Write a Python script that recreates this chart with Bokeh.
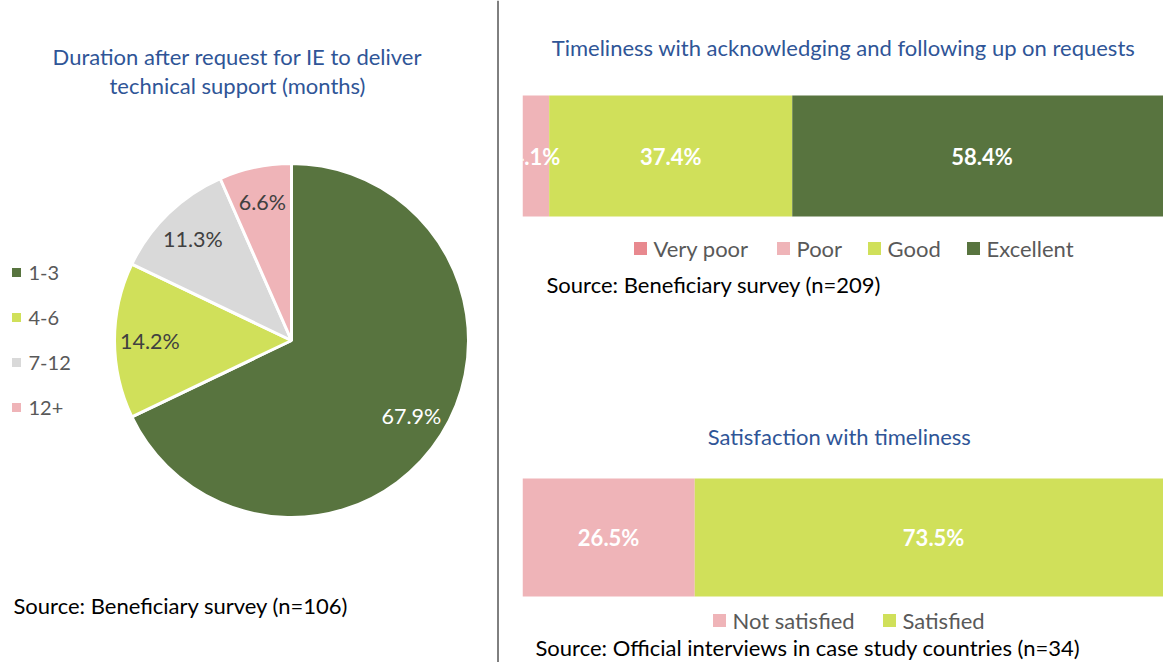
import math
from bokeh.plotting import figure
from bokeh.models import Range1d, Span, ColumnDataSource
from bokeh.layouts import row, column
from bokeh.core.properties import value
from bokeh.embed import file_html
from bokeh.resources import INLINE

# ---------------- data ----------------
pie_title = ["Duration after request for IE to deliver", "technical support (months)"]
pie_categories = ["1-3", "4-6", "7-12", "12+"]
pie_values = [67.9, 14.2, 11.3, 6.6]
pie_source = "Source: Beneficiary survey (n=106)"

bar1_title = "Timeliness with acknowledging and following up on requests"
bar1_categories = ["Very poor", "Poor", "Good", "Excellent"]
bar1_values = [0.0, 4.1, 37.4, 58.4]
bar1_source = "Source: Beneficiary survey (n=209)"

bar2_title = "Satisfaction with timeliness"
bar2_categories = ["Not satisfied", "Satisfied"]
bar2_values = [26.5, 73.5]
bar2_source = "Source: Official interviews in case study countries (n=34)"

# ---------------- styles ----------------
FONT = "Lato"
TITLE_COLOR = "#2F5597"
LEGEND_COLOR = "#595959"
DARK_GREEN = "#58743F"
LIGHT_GREEN = "#D0E05A"
GREY = "#D9D9D9"
PINK = "#EFB4B8"
RED_PINK = "#E8898F"
pie_colors = [DARK_GREEN, LIGHT_GREEN, GREY, PINK]
pie_label_colors = ["white", "#404040", "#404040", "#404040"]
bar1_colors = [RED_PINK, PINK, LIGHT_GREEN, DARK_GREEN]
bar2_colors = [PINK, LIGHT_GREEN]

PAGE_W, PAGE_H = 1163, 662
DIV_X = 499


def base_fig(w, h, xr, yr, **kw):
    p = figure(width=w, height=h, x_range=xr, y_range=yr, title=None,
               toolbar_location=None, output_backend="svg",
               x_axis_location=None, y_axis_location=None,
               min_border=0, **kw)
    p.grid.visible = False
    p.outline_line_color = None
    p.background_fill_color = "white"
    p.border_fill_color = "white"
    return p


def txt(p, x, y, t, size, color, align="left", style="normal"):
    p.text(x=[x], y=[y], text=[t], text_font=value(FONT), text_font_size=size,
           text_color=color, text_align=align, text_baseline="middle",
           text_font_style=style)


# ---------------- left: pie ----------------
# page coordinates: x in px, y = -page_y
left = base_fig(DIV_X, PAGE_H, Range1d(0, DIV_X), Range1d(-PAGE_H, 0))
cx, cy, R = 291, -340, 177
cum = [0.0]
for v in pie_values:
    cum.append(cum[-1] + v)
total = cum[-1]
starts = [math.pi / 2 - 2 * math.pi * c / total for c in cum[:-1]]
ends = [math.pi / 2 - 2 * math.pi * c / total for c in cum[1:]]
src = ColumnDataSource(dict(start=starts, end=ends, color=pie_colors))
left.wedge(x=cx, y=cy, radius=R, start_angle="start", end_angle="end",
           direction="clock", fill_color="color", line_color="white",
           line_width=3, source=src)
mids = [(s + e) / 2 for s, e in zip(starts, ends)]
lr = 0.8 * R
left.text(x=[cx + lr * math.cos(m) for m in mids],
          y=[cy + lr * math.sin(m) for m in mids],
          text=[f"{v:.1f}%" for v in pie_values],
          text_font=value(FONT), text_font_size="21.5px",
          text_color=pie_label_colors, text_align="center", text_baseline="middle")

txt(left, 237, -56, pie_title[0], "22px", TITLE_COLOR, "center")
txt(left, 237, -85, pie_title[1], "22px", TITLE_COLOR, "center")

leg_y = [-272 - 45 * i for i in range(len(pie_categories))]
left.scatter(x=[16] * len(pie_categories), y=leg_y, marker="square", size=9,
             fill_color=pie_colors, line_color=None)
left.text(x=[28] * len(pie_categories), y=leg_y, text=pie_categories,
          text_font=value(FONT), text_font_size="20px", text_color=LEGEND_COLOR,
          text_align="left", text_baseline="middle")
txt(left, 13, -605, pie_source, "22px", "black")

left.add_layout(Span(location=DIV_X - 1.5, dimension="height", line_color="black", line_width=1))

# ---------------- right: stacked bars ----------------
SCALE = 6.5      # px per percent
ORIGIN = 522     # page x of 0 %
XMAX = (PAGE_W - ORIGIN) / SCALE
RW = PAGE_W - DIV_X


def pct(px):
    return (px - ORIGIN) / SCALE


def stacked(p, values, colors, yc, h):
    c = [0.0]
    for v in values:
        c.append(c[-1] + v)
    s = ColumnDataSource(dict(l=c[:-1], r=c[1:], color=colors))
    p.hbar(y=yc, height=h, left="l", right="r", fill_color="color",
           line_color=None, source=s)
    lab = [(a, b, v) for a, b, v in zip(c[:-1], c[1:], values) if v > 0]
    p.text(x=[(a + b) / 2 for a, b, v in lab], y=[yc] * len(lab),
           text=[f"{v:.1f}%" for a, b, v in lab], text_font=value(FONT),
           text_font_size="22px", text_font_style="bold", text_color="white",
           text_align="center", text_baseline="middle")


def legend(p, cats, colors, xs, y, size):
    p.scatter(x=[pct(x) for x in xs], y=[y] * len(cats), marker="square", size=13,
              fill_color=colors, line_color=None)
    p.text(x=[pct(x + 13) for x in xs], y=[y] * len(cats), text=cats,
           text_font=value(FONT), text_font_size=size, text_color=LEGEND_COLOR,
           text_align="left", text_baseline="middle")


top = base_fig(RW, 320, Range1d(0, XMAX), Range1d(-320, 0), min_border_left=ORIGIN - DIV_X)
txt(top, pct(843), -47, bar1_title, "22px", TITLE_COLOR, "center")
stacked(top, bar1_values, bar1_colors, -155.5, 121)
legend(top, bar1_categories, bar1_colors, [640, 783, 874, 973], -248, "22px")
txt(top, pct(546), -284, bar1_source, "22px", "black")

bot = base_fig(RW, PAGE_H - 320, Range1d(0, XMAX), Range1d(-PAGE_H, -320),
               min_border_left=ORIGIN - DIV_X)
txt(bot, pct(839), -436, bar2_title, "22px", TITLE_COLOR, "center")
stacked(bot, bar2_values, bar2_colors, -537, 118)
legend(bot, bar2_categories, bar2_colors, [719, 889], -620, "22px")
txt(bot, pct(535), -647, bar2_source, "22px", "black")

layout = row(left, column(top, bot, spacing=0), spacing=0)
open("out.html", "w").write(file_html(layout, INLINE))
